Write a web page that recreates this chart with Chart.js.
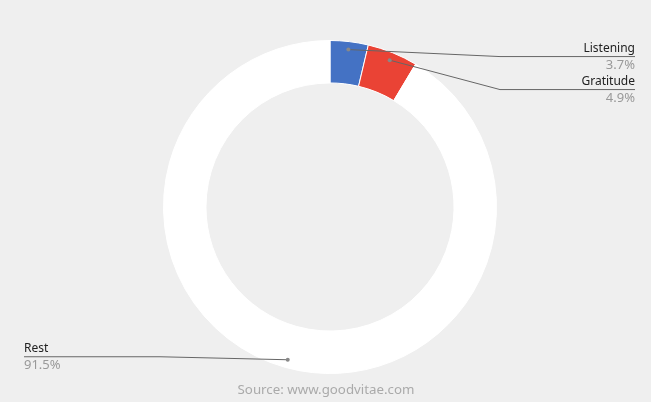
<!DOCTYPE html>
<html>
<head>
<meta charset="utf-8">
<script src="https://cdn.jsdelivr.net/npm/chart.js@4"></script>
<style>
  html, body { margin: 0; padding: 0; background: #efefef; }
  #wrap { width: 651px; height: 402px; }
</style>
</head>
<body>
<div id="wrap"><canvas id="grafica" width="651" height="402"></canvas></div>
<script>
// Datos del gráfico
const categorias = ['Listening', 'Gratitude', 'Rest'];
const porcentajes = [3.7, 4.9, 91.5];
const colores = ['#4472c4', '#ea4335', '#ffffff'];
const fuente = 'Source: www.goodvitae.com';

const FONT = '"Noto Sans", "DejaVu Sans", sans-serif';

// Plugin para etiquetas con líneas guía y el texto de la fuente
const etiquetasPlugin = {
    id: 'etiquetas',
    afterDraw(chart) {
        const ctx = chart.ctx;
        const arcos = chart.getDatasetMeta(0).data;
        let ultimoDerecha = -Infinity;
        ctx.save();
        arcos.forEach((arc, i) => {
            const mid = (arc.startAngle + arc.endAngle) / 2;
            const r = arc.outerRadius - 8;
            const px = arc.x + Math.cos(mid) * r;
            const py = arc.y + Math.sin(mid) * r;
            const derecha = Math.cos(mid) >= 0;
            let ey, ex, fin;
            if (derecha) {
                ey = Math.max(py + 7, ultimoDerecha + 33);
                ultimoDerecha = ey;
                ex = 500;
                fin = 635;
            } else {
                ey = py - 3;
                ex = 160;
                fin = 24;
            }
            // línea guía
            ctx.strokeStyle = '#666666';
            ctx.lineWidth = 1;
            ctx.beginPath();
            ctx.moveTo(px, py);
            ctx.lineTo(ex, ey);
            ctx.lineTo(fin, ey);
            ctx.stroke();
            // punto
            ctx.fillStyle = '#888888';
            ctx.beginPath();
            ctx.arc(px, py, 2, 0, Math.PI * 2);
            ctx.fill();
            // textos
            ctx.textAlign = derecha ? 'right' : 'left';
            ctx.textBaseline = 'middle';
            ctx.font = '12px ' + FONT;
            ctx.fillStyle = '#222222';
            ctx.fillText(categorias[i], fin, ey - 8);
            ctx.font = '13px ' + FONT;
            ctx.fillStyle = '#999999';
            ctx.fillText(porcentajes[i].toFixed(1) + '%', fin, ey + 9);
        });
        // fuente
        ctx.font = '13.3px ' + FONT;
        ctx.fillStyle = '#aaaaaa';
        ctx.textAlign = 'center';
        ctx.textBaseline = 'middle';
        ctx.fillText(fuente, 326, 390);
        ctx.restore();
    }
};

const ctx = document.getElementById('grafica').getContext('2d');
new Chart(ctx, {
    type: 'doughnut',
    data: {
        labels: categorias,
        datasets: [{
            data: porcentajes,
            backgroundColor: colores,
            borderColor: '#ffffff',
            borderWidth: 1
        }]
    },
    options: {
        responsive: false,
        animation: false,
        cutout: '74.5%',
        layout: { padding: { top: 40, bottom: 28, left: 9, right: 0 } },
        plugins: {
            legend: { display: false },
            tooltip: { enabled: false }
        }
    },
    plugins: [etiquetasPlugin]
});
</script>
</body>
</html>
